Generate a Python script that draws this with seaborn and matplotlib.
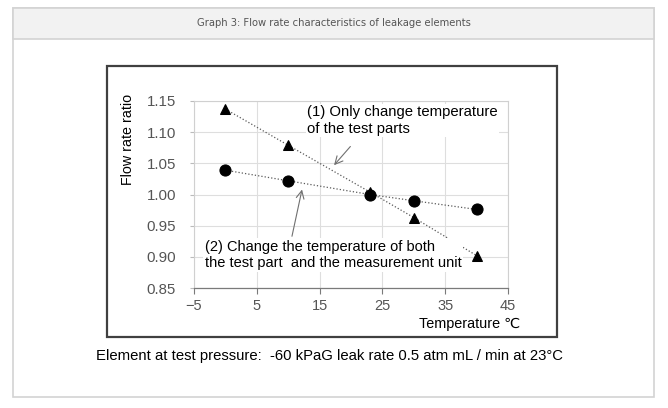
"""
Graph 3: Flow rate characteristics of leakage elements
"""

import pandas as pd
import matplotlib
matplotlib.use("Agg")
import matplotlib.pyplot as plt
import seaborn as sns
from matplotlib.patches import Rectangle

# ===================== Data =====================
temperature = [0, 10, 23, 30, 40]
ratio_test_part_only = [1.137, 1.079, 1.004, 0.963, 0.902]   # (1) triangles
ratio_part_and_unit = [1.039, 1.022, 1.000, 0.990, 0.976]    # (2) circles

x_ticks = [-5, 5, 15, 25, 35, 45]
y_ticks = [0.85, 0.90, 0.95, 1.00, 1.05, 1.10, 1.15]

TITLE = "Graph 3: Flow rate characteristics of leakage elements"
NOTE_1 = "(1) Only change temperature\nof the test parts"
NOTE_2 = "(2) Change the temperature of both\nthe test part  and the measurement unit"
FOOTNOTE = "Element at test pressure:  -60 kPaG leak rate 0.5 atm mL / min at 23°C"
# =================================================

df = pd.DataFrame({
    "temp": temperature * 2,
    "ratio": ratio_test_part_only + ratio_part_and_unit,
    "series": ["part"] * len(temperature) + ["both"] * len(temperature),
})

sns.set_style("white")
plt.rcParams["font.family"] = ["Liberation Sans", "DejaVu Sans"]

W, H = 668, 408
fig = plt.figure(figsize=(W / 100, H / 100), dpi=100)


def fx(px):
    return px / W


def fy(py):
    return 1 - py / H


# outer card + header band (drawn behind the axes)
fig.patches.append(Rectangle((fx(13), fy(397)), fx(641), 389 / H, transform=fig.transFigure,
                             fc="white", ec="#d3d3d3", lw=1.2, zorder=-3))
fig.patches.append(Rectangle((fx(13), fy(39)), fx(641), 31 / H, transform=fig.transFigure,
                             fc="#f2f2f2", ec="#d3d3d3", lw=1.2, zorder=-2))
fig.text(fx(334), fy(23), TITLE, ha="center", va="center", fontsize=7.2,
         color="#555555", family=["DejaVu Sans"])

# black frame around the chart
fig.patches.append(Rectangle((fx(107), fy(337)), fx(450), 271 / H, transform=fig.transFigure,
                             fc="white", ec="#404040", lw=1.6, zorder=-1))

ax = fig.add_axes([fx(194), fy(288), fx(314), 187 / H])
ax.set_zorder(1)
ax.set_facecolor("white")

sns.lineplot(data=df[df["series"] == "part"], x="temp", y="ratio", ax=ax,
             color="#5a5a5a", lw=0.9, linestyle=":", marker="^", markersize=7,
             markerfacecolor="black", markeredgecolor="black", zorder=3)
sns.lineplot(data=df[df["series"] == "both"], x="temp", y="ratio", ax=ax,
             color="#5a5a5a", lw=0.9, linestyle=":", marker="o", markersize=8,
             markerfacecolor="black", markeredgecolor="black", zorder=3)

ax.set_xlim(-5, 45)
ax.set_ylim(0.85, 1.15)
ax.set_xticks(x_ticks)
ax.set_yticks(y_ticks)
ax.set_yticklabels([f"{v:.2f}" for v in y_ticks])
ax.set_xlabel("")
ax.set_ylabel("")
ax.grid(True, color="#dedede", lw=0.8)
ax.set_axisbelow(True)

for side in ["top", "right", "left"]:
    ax.spines[side].set_color("#d0d0d0")
    ax.spines[side].set_linewidth(0.8)
ax.spines["bottom"].set_color("#7a7a7a")
ax.spines["bottom"].set_linewidth(0.9)

ax.tick_params(axis="x", direction="out", length=4, width=0.8, color="#7a7a7a",
               labelsize=10.5, labelcolor="#555555", pad=4, bottom=True)
ax.tick_params(axis="y", direction="out", length=3, width=0.8, color="#bbbbbb",
               labelsize=10.8, labelcolor="#555555", pad=10, left=True)

# annotations
ax.text(13.0, 1.143, NOTE_1, ha="left", va="top", fontsize=10.7, color="black",
        linespacing=1.2, bbox=dict(fc="white", ec="none", pad=1), zorder=4)
ax.annotate("", xy=(17.3, 1.047), xytext=(19.9, 1.077),
            arrowprops=dict(arrowstyle="->", color="#707070", lw=0.8,
                            mutation_scale=14, shrinkA=0, shrinkB=0), zorder=4)

ax.text(-3.3, 0.903, NOTE_2, ha="left", va="center", fontsize=10.5, color="black",
        linespacing=1.2, bbox=dict(fc="white", ec="none", pad=1), zorder=4)
ax.annotate("", xy=(12.2, 1.008), xytext=(10.6, 0.933),
            arrowprops=dict(arrowstyle="->", color="#707070", lw=0.8,
                            mutation_scale=14, shrinkA=0, shrinkB=0), zorder=4)

# axis titles
fig.text(fx(128), fy(139), "Flow rate ratio", rotation=90, ha="center", va="center",
         fontsize=10.3, color="black")
fig.text(fx(520), fy(324), "Temperature ℃", ha="right", va="center",
         fontsize=10.4, color="black")

fig.text(fx(330), fy(356), FOOTNOTE, ha="center", va="center", fontsize=10.75,
         color="black")

fig.savefig("out.png", dpi=100)
